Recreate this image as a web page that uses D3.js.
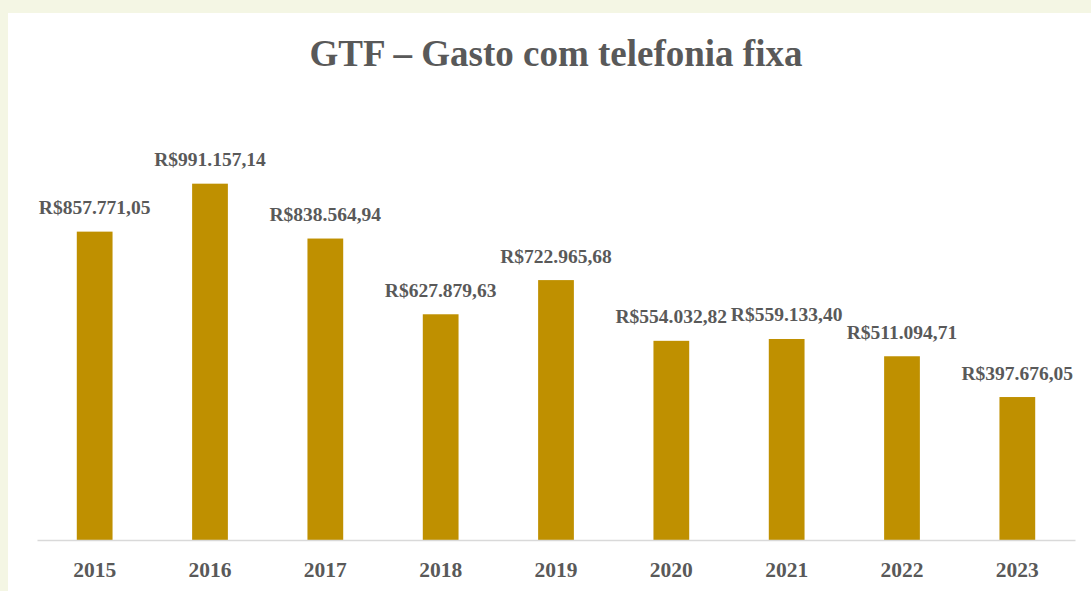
<!DOCTYPE html>
<html>
<head>
<meta charset="utf-8">
<script src="https://cdn.jsdelivr.net/npm/d3@7"></script>
<style>
html,body{margin:0;padding:0;background:#f4f6e4;}
svg{display:block;}
</style>
</head>
<body>
<script>
const title = "GTF – Gasto com telefonia fixa";
const years = ["2015","2016","2017","2018","2019","2020","2021","2022","2023"];
const values = [857771.05, 991157.14, 838564.94, 627879.63, 722965.68, 554032.82, 559133.40, 511094.71, 397676.05];
const valueLabels = ["R$857.771,05","R$991.157,14","R$838.564,94","R$627.879,63","R$722.965,68","R$554.032,82","R$559.133,40","R$511.094,71","R$397.676,05"];

const W = 1091, H = 591;
const svg = d3.select("body").append("svg").attr("width", W).attr("height", H);
svg.append("rect").attr("width", W).attr("height", H).attr("fill", "#f4f6e4");
svg.append("rect").attr("x", 8).attr("y", 13).attr("width", W - 8).attr("height", H - 13).attr("fill", "#ffffff");

const x = d3.scaleBand().domain(years).range([37, 1075]).paddingInner(0.69).paddingOuter(0.345);
const y = d3.scaleLinear().domain([0, 1200000]).range([540, 108.6]);

svg.append("text").attr("x", 556).attr("y", 66).attr("text-anchor", "middle")
  .attr("font-family", "'Liberation Serif', 'Times New Roman', serif").attr("font-weight", "bold")
  .attr("font-size", 37).attr("fill", "#595959").text(title);

svg.selectAll("rect.bar").data(years).join("rect").attr("class", "bar")
  .attr("x", d => x(d)).attr("width", x.bandwidth())
  .attr("y", (d, i) => y(values[i])).attr("height", (d, i) => y(0) - y(values[i]))
  .attr("fill", "#bf9000");

const axis = d3.axisBottom(x).tickSize(0).tickPadding(0);
const gx = svg.append("g").attr("transform", "translate(0,540)").call(axis);
gx.select(".domain").attr("stroke", "#d9d9d9").attr("stroke-width", 1.5);
gx.selectAll("text").attr("dy", null).attr("y", 37)
  .attr("font-family", "'Liberation Serif', 'Times New Roman', serif").attr("font-weight", "bold")
  .attr("font-size", 21.5).attr("fill", "#595959");

svg.selectAll("text.val").data(years).join("text").attr("class", "val")
  .attr("x", d => x(d) + x.bandwidth() / 2).attr("y", (d, i) => y(values[i]) - 17.5)
  .attr("text-anchor", "middle")
  .attr("font-family", "'Liberation Serif', 'Times New Roman', serif").attr("font-weight", "bold")
  .attr("font-size", 19.5).attr("fill", "#595959")
  .text((d, i) => valueLabels[i]);
</script>
</body>
</html>
